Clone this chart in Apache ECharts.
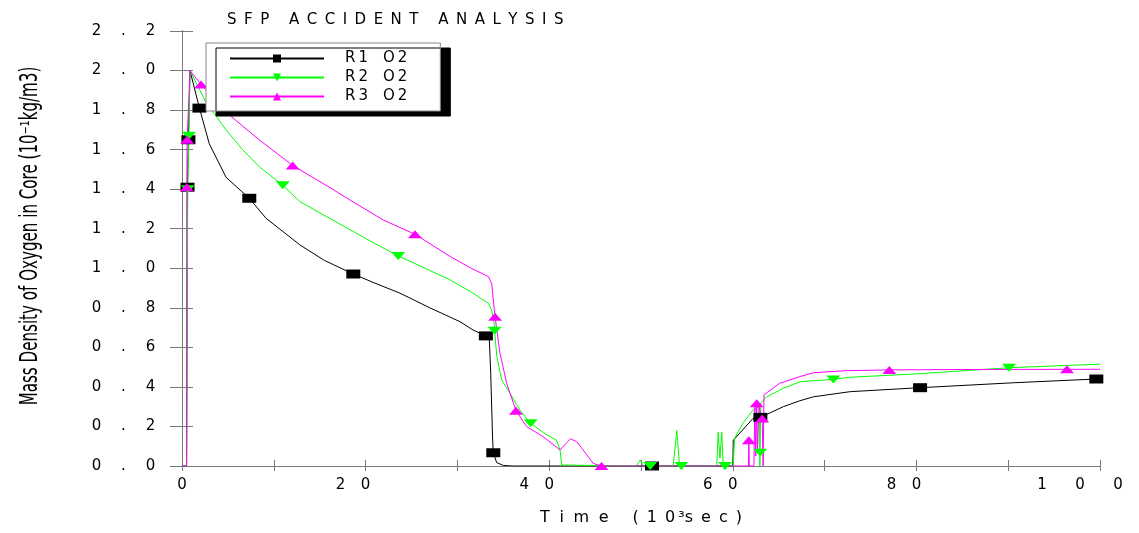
<!DOCTYPE html>
<html><head><meta charset="utf-8">
<script src="https://cdn.jsdelivr.net/npm/echarts@6/dist/echarts.min.js"></script>
<style>html,body{margin:0;padding:0;background:#fff}#c{width:1139px;height:533px}</style>
</head><body><div id="c"></div>
<script>
// ---- data (time in 10^3 s, density in 10^-1 kg/m3) ----
const TITLE = 'SFP ACCIDENT ANALYSIS';
const X_NAME = 'Time (10³sec)';
const Y_NAME = 'Mass Density of Oxygen in Core (10⁻¹kg/m3)';
const SERIES_NAMES = ['R1 O2', 'R2 O2', 'R3 O2'];

const R1 = [[0,0],[0.5,0],[0.6,1.41],[0.7,1.65],[0.87,2.0],[1.9,1.81],[2.97,1.63],[4.8,1.46],[7.33,1.354],[9.15,1.253],
  [12.85,1.118],[15.5,1.04],[18.66,0.971],[21,0.925],[23.75,0.874],[27,0.80],[30.28,0.73],[31.7,0.688],[33.1,0.658],
  [33.48,0.637],[33.63,0.469],[33.84,0.131],[33.91,0.067],[34.28,0.017],[35,0.003],[36,0],[51.2,0],[60,0],[60.05,0.13],
  [62.2,0.24],[63,0.246],[65.5,0.30],[67.3,0.33],[68.8,0.35],[72.8,0.376],[80.4,0.396],[90.6,0.421],[99.6,0.44],[100,0.44]];
const R1_MARKS = [0.6, 0.7, 1.9, 7.33, 18.66, 33.1, 33.91, 51.2, 63, 80.4, 99.6];

const R2 = [[0,0],[0.5,0],[0.62,1.40],[0.75,1.67],[0.87,2.0],[2.6,1.84],[4.8,1.70],[6.6,1.60],[8.5,1.51],[10.97,1.42],
  [12.85,1.337],[15.7,1.262],[18.3,1.195],[21,1.125],[23.56,1.062],[26.5,1.0],[29.2,0.941],[31.5,0.88],[33.37,0.823],
  [33.73,0.789],[34.0,0.72],[34.05,0.684],[34.3,0.553],[34.83,0.435],[35.73,0.368],[36.8,0.283],[37.98,0.216],[39.36,0.169],
  [40.8,0.13],[41.18,0.081],[41.36,0.005],[41.5,0],[49.5,0],[49.9,0.03],[50.3,0],[51,0],[53.5,0],[53.9,0.18],[54.2,0],
  [54.4,0],[58.25,0],[58.4,0.17],[58.6,0.04],[58.8,0.17],[58.95,0],[59.15,0],[60.05,0],[60.2,0.14],[61.1,0.216],
  [62.2,0.283],[62.9,0.30],[62.95,0],[62.97,0.067],[63.05,0.32],[63.7,0.35],[65.5,0.393],[67.3,0.426],[70.95,0.438],
  [72.8,0.449],[79.7,0.465],[90.1,0.497],[100,0.515]];
const R2_MARKS = [0.62, 0.75, 10.97, 23.56, 34.05, 37.98, 51, 54.4, 59.15, 62.97, 70.95, 90.1];

const R3 = [[0,0],[0.5,0],[0.52,1.41],[0.56,1.65],[0.87,2.0],[2.07,1.93],[5.3,1.77],[8.4,1.65],[12.06,1.52],[16.4,1.40],
  [18.3,1.345],[21.93,1.244],[25.38,1.172],[29.2,1.06],[31.5,1.0],[33.37,0.958],[33.73,0.924],[34.1,0.755],[34.64,0.57],
  [35.37,0.418],[36.38,0.28],[37.55,0.199],[39.36,0.148],[41.18,0.081],[42.3,0.138],[43,0.123],[43.7,0.081],[44.8,0.013],
  [45.7,0],[61.7,0],[61.75,0.13],[61.8,0],[62.3,0],[62.4,0.30],[62.5,0.05],[62.6,0.317],[62.7,0.08],[62.85,0.30],
  [63.2,0.24],[63.3,0],[63.4,0.36],[65.1,0.418],[67.3,0.452],[68.8,0.472],[72.4,0.482],[77.05,0.486],[85,0.488],
  [96.4,0.489],[100,0.489]];
const R3_MARKS = [0.52, 0.56, 2.07, 12.06, 25.38, 34.1, 36.38, 45.7, 61.75, 62.6, 63.2, 77.05, 96.4];

// ---- chart ----
const FONT = 'DejaVu Sans';
const spaced = s => s.split(' ').map(w => w.split('').join('\u2002')).join('\u2002 \u2002');
const xName = 'T\u2002\u200ai\u2002\u200am\u2002\u200ae\u2003\u2002(\u20021\u20020\u2009³s\u2002e\u2002c\u2002)';

function markSize(marks, size) {
  return (v) => marks.includes(v[0]) ? size : 0;
}
function lineSeries(name, data, color, symbol, rotate, marks, size) {
  return {
    name, type: 'line', data, xAxisIndex: 0, yAxisIndex: 0,
    symbol, symbolRotate: rotate, symbolSize: markSize(marks, size),
    showSymbol: true, showAllSymbol: true, symbolKeepAspect: false,
    lineStyle: { color, width: 1 }, itemStyle: { color, borderWidth: 0 },
    emphasis: { disabled: true }, animation: false, clip: true
  };
}

const chart = echarts.init(document.getElementById('c'), null, { renderer: 'canvas' });
const axisGray = '#7a7a7a';
chart.setOption({
  backgroundColor: '#fff',
  animation: false,
  title: {
    text: spaced(TITLE), left: 222, top: 8,
    textStyle: { fontFamily: FONT, fontSize: 15, fontWeight: 'normal', color: '#000' }
  },
  legend: {
    data: SERIES_NAMES, orient: 'vertical', left: 206, top: 43,
    itemWidth: 94, itemHeight: 10, itemGap: 4,
    padding: [8, 33, 7, 23],
    backgroundColor: '#fff', borderColor: '#888', borderWidth: 1,
    shadowColor: '#000', shadowBlur: 0, shadowOffsetX: 10, shadowOffsetY: 5,
    selectedMode: false,
    formatter: n => n.split(' ').map(w => w.split('').join('\u2009')).join('\u2003'),
    textStyle: { fontFamily: FONT, fontSize: 15, color: '#000', padding: [0, 0, 0, 16] }
  },
  grid: { left: 182, right: 39, top: 31, bottom: 67, outerBoundsMode: 'none', containLabel: false },
  xAxis: [{
    type: 'value', min: 0, max: 100, interval: 10, position: 'bottom',
    name: xName, nameLocation: 'middle', nameGap: 44,
    nameTextStyle: { fontFamily: FONT, fontSize: 16, color: '#000' },
    axisLine: { lineStyle: { color: axisGray, width: 1 } },
    axisTick: { inside: true, length: 6, lineStyle: { color: axisGray } },
    splitLine: { show: false },
    axisLabel: {
      margin: 12, showMinLabel: true, showMaxLabel: true, color: '#000',
      formatter: v => {
        const r = Math.round(v);
        if (r % 20 !== 0) return '';
        const s = String(r);
        if (s.length === 1) return '{c|' + s + '}';
        if (s.length === 2) return '{c|' + s[0] + '}{c|' + s[1] + '}{s|\u00a0}';
        return s.split('').map(ch => '{w|' + ch + '}').join('') + '{s2|\u00a0}';
      },
      rich: {
        c: { width: 25, align: 'center', fontFamily: FONT, fontSize: 15, color: '#000' },
        w: { width: 38, align: 'center', fontFamily: FONT, fontSize: 15, color: '#000' },
        s: { width: 25, fontSize: 15 },
        s2: { width: 40, fontSize: 15 }
      }
    }
  }, {
    type: 'value', min: 0, max: 100, interval: 10, position: 'top',
    axisLine: { lineStyle: { color: axisGray, width: 1 } },
    axisTick: { inside: true, length: 5, lineStyle: { color: axisGray } },
    axisLabel: { show: false }, splitLine: { show: false }
  }],
  yAxis: [{
    type: 'value', min: 0, max: 2.2, interval: 0.2, position: 'left',
    axisLine: { lineStyle: { color: '#111', width: 1 } },
    axisTick: { inside: true, length: 11, lineStyle: { color: axisGray } },
    splitLine: { show: false },
    axisLabel: {
      margin: 18, color: '#000',
      formatter: v => v.toFixed(1).split('').map(ch => '{c|' + ch + '}').join(''),
      rich: { c: { width: 27, align: 'center', fontFamily: FONT, fontSize: 15, color: '#000' } }
    }
  }, {
    type: 'value', min: 0, max: 2.2, interval: 0.2, position: 'right',
    axisLine: { lineStyle: { color: axisGray, width: 1 } },
    axisTick: { inside: true, length: 12, lineStyle: { color: axisGray } },
    axisLabel: { show: false }, splitLine: { show: false }
  }],
  graphic: [{
    type: 'text', x: 31, y: 236, rotation: Math.PI / 2, scaleX: 0.7, scaleY: 1,
    style: {
      text: Y_NAME, font: '24px "DejaVu Sans Condensed", "DejaVu Sans"', fill: '#000',
      align: 'center', verticalAlign: 'middle', textAlign: 'center', textVerticalAlign: 'middle'
    }
  }],
  series: [
    lineSeries(SERIES_NAMES[0], R1, '#000000', 'rect', 0, R1_MARKS, [14, 9]),
    lineSeries(SERIES_NAMES[1], R2, '#00ff00', 'triangle', 180, R2_MARKS, [14, 8]),
    lineSeries(SERIES_NAMES[2], R3, '#ff00ff', 'triangle', 0, R3_MARKS, [14, 8])
  ]
});
</script></body></html>
